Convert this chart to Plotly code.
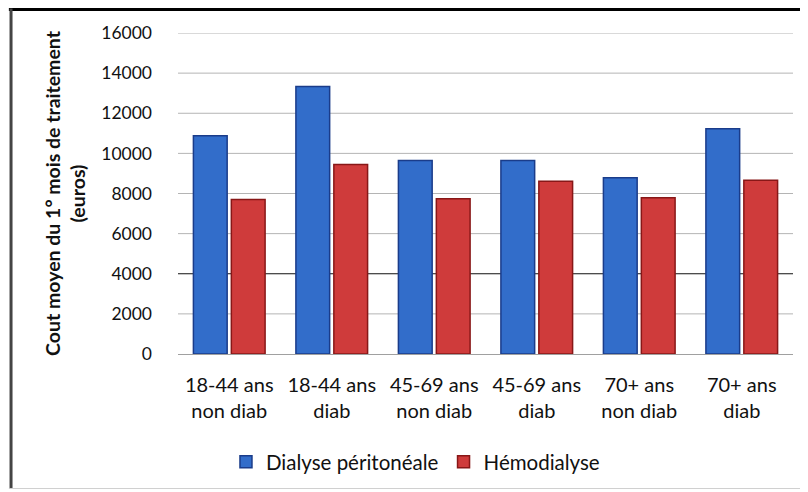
import plotly.graph_objects as go

categories = ["18-44 ans<br>non diab", "18-44 ans<br>diab", "45-69 ans<br>non diab",
              "45-69 ans<br>diab", "70+ ans<br>non diab", "70+ ans<br>diab"]
dialyse_peritoneale = [10880, 13330, 9650, 9650, 8780, 11230]
hemodialyse = [7700, 9450, 7740, 8610, 7790, 8660]
y_ticks = [0, 2000, 4000, 6000, 8000, 10000, 12000, 14000, 16000]
y_tick_labels = ["0", "2000", "4000", "6000", "8000", "10000", "12000", "14000", "16000"]
dark_grid_value = 4000

FONT = "Lato"

fig = go.Figure()
fig.add_trace(go.Bar(
    x=categories, y=dialyse_peritoneale, name="Dialyse péritonéale",
    marker=dict(color="#326dca", line=dict(color="#1a3c8a", width=1.5)),
))
fig.add_trace(go.Bar(
    x=categories, y=hemodialyse, name="Hémodialyse",
    marker=dict(color="#cf3b3b", line=dict(color="#881717", width=1.5)),
))

# gridlines drawn as shapes behind the bars (one of them darker, as in the picture)
for v in y_ticks[1:]:
    dark = v == dark_grid_value
    fig.add_shape(type="line", xref="paper", yref="y", x0=0, x1=1, y0=v, y1=v,
                  line=dict(color="#111111" if dark else "#b4b4b4", width=1),
                  layer="below")

# chart frame
fig.add_shape(type="line", xref="paper", yref="paper", x0=-0.275, x1=1.05,
              y0=1.073, y1=1.073, line=dict(color="#000000", width=3))
fig.add_shape(type="line", xref="paper", yref="paper", x0=-0.2715, x1=-0.2715,
              y0=1.076, y1=-0.42, line=dict(color="#444444", width=3))
fig.add_shape(type="line", xref="paper", yref="paper", x0=-0.275, x1=1.05,
              y0=-0.419, y1=-0.419, line=dict(color="#d0d0d0", width=1))

fig.update_layout(
    width=800, height=484,
    margin=dict(l=170, r=15, t=25, b=137),
    paper_bgcolor="white", plot_bgcolor="white",
    font=dict(family=FONT, color="#111111", size=16),
    barmode="group", bargap=0.26, bargroupgap=0.11,
    showlegend=True,
    legend=dict(orientation="h", x=0.078, xanchor="left", y=-0.332, yanchor="middle",
                font=dict(size=20.5, family=FONT), itemclick=False),
    xaxis=dict(showline=True, linecolor="#a0a0a0", linewidth=1, ticks="",
               tickfont=dict(size=20, family=FONT), ticklabelstandoff=13),
    yaxis=dict(range=[0, 16000], tickvals=y_ticks, ticktext=y_tick_labels,
               showgrid=False, zeroline=False, showline=False, ticks="",
               tickfont=dict(size=17.5, family=FONT), ticklabelstandoff=25,
               title=dict(text="<b>Cout moyen du 1° mois de traitement<br>(euros)</b>",
                          font=dict(size=19.5, family=FONT), standoff=10)),
)

fig.write_html("out.html")
